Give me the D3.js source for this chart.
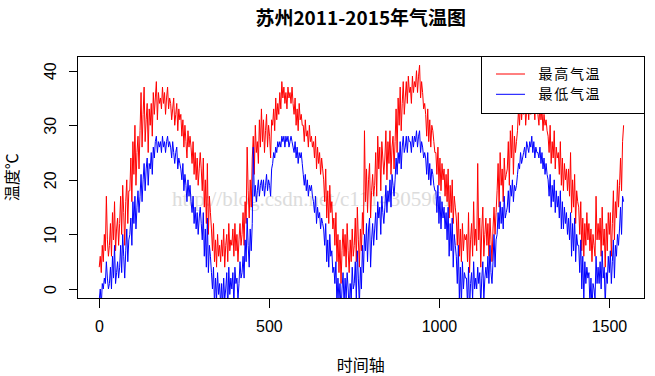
<!DOCTYPE html>
<html><head><meta charset="utf-8">
<script src="https://cdn.jsdelivr.net/npm/d3@7"></script>
<style>body{margin:0;background:#fff}svg{display:block}</style>
</head><body><svg id="c" width="655" height="376"></svg>
<script>
// Daily temperature, sampled every 3 days (day index 1, 4, 7, ...)
const maxTemp = [
4,6,3,8,5,10,7,17,9,6, 8,12,6,14,9,16,7,11,13,8, 12,17,10,19,14,8,16,20,12,18,
18,24,16,27,21,30,19,25,28,22, 29,36,26,32,37,27,31,34,25,33, 30,34,28,36,32,35,38,31,36,34,
35,33,37,34,36,32,35,37,33,35, 34,31,33,35,30,32,34,29,33,31, 32,28,31,26,30,27,24,29,26,28,
26,23,27,21,25,20,24,19,22,25, 22,18,24,15,20,12,23,10,17,14, 11,7,12,5,9,4,10,6,8,5,
9,6,11,4,8,10,5,12,7,9, 8,11,6,12,7,10,5,9,12,8, 10,14,8,16,12,26,18,13,20,15,
24,28,21,30,25,27,23,31,26,33, 27,31,25,29,32,26,30,28,24,31, 30,33,29,35,31,34,32,36,33,38,
35,37,34,36,33,37,35,36,34,37, 34,32,35,30,33,29,34,31,32,30, 30,27,31,28,29,26,30,27,28,26,
27,24,28,22,26,23,25,21,24,22, 20,16,22,13,18,12,19,14,16,11, 13,8,14,5,10,3,9,1,7,11,
6,10,4,12,7,3,9,5,11,6, 8,13,5,15,9,4,11,7,14,10, 29,16,22,14,20,23,13,18,21,17,
19,25,17,28,22,26,18,27,24,21, 24,29,20,27,23,29,21,26,28,22, 27,33,25,35,30,37,29,34,38,32,
35,38,34,39,36,37,34,39,36,38, 37,40,36,39,41,35,38,36,33,34, 32,28,33,27,31,26,30,29,27,25,
25,21,26,19,24,18,23,20,22,17, 21,16,22,13,19,14,20,12,17,15, 13,8,14,6,11,5,12,7,10,9,
10,5,14,3,9,12,6,16,8,11, 7,23,9,13,4,11,15,6,10,13, 8,12,6,13,9,5,11,15,10,14,
18,23,15,25,19,22,16,24,20,21, 22,27,19,29,24,30,21,28,25,27, 29,33,30,35,31,34,32,36,30,33,
34,31,35,32,36,33,34,31,35,33, 32,30,34,31,33,29,32,30,31,29, 28,25,30,23,27,24,29,22,26,24,
25,21,27,19,24,18,23,20,22,18, 22,17,25,14,20,15,21,12,18,16, 15,10,16,7,13,6,12,8,14,9,
12,7,11,5,10,8,6,17,9,12, 9,13,6,15,8,11,4,12,7,14, 10,14,6,12,18,9,16,13,20,15,
19,24,18,27,30
];
const minTemp = [
-2,0,-3,1,0,2,1,5,2,0, 1,4,0,6,2,8,1,3,5,2, 4,8,3,10,6,2,7,11,5,9,
10,13,8,16,12,17,11,15,18,14, 17,21,16,20,23,18,22,24,19,23, 22,25,21,26,24,27,28,25,27,26,
27,25,28,26,27,25,27,28,26,27, 26,24,27,25,23,25,26,22,24,23, 22,20,23,18,21,19,16,20,17,19,
16,14,17,12,15,11,14,10,13,15, 12,9,14,6,11,4,13,3,8,6, 3,0,4,-3,2,-2,3,-1,1,-3,
1,-3,2,-2,0,3,-4,4,-1,2, 0,3,-3,4,1,2,-2,1,5,2, 3,6,2,9,5,13,8,4,11,7,
12,26,17,19,16,18,20,17,19,20, 18,20,17,19,21,18,20,19,17,22, 23,25,24,26,25,27,26,27,26,28,
27,28,26,28,27,28,26,27,28,27, 26,25,27,24,26,23,25,24,25,23, 21,19,21,18,20,17,19,18,19,17,
16,14,17,12,15,13,14,11,13,12, 11,8,12,5,9,4,10,6,7,3, 4,1,5,-3,2,-2,1,-4,0,3,
-3,2,-2,3,0,-4,1,-2,4,0, 1,5,-2,7,2,-3,4,0,8,3, 10,7,12,5,11,13,4,9,12,8,
11,14,9,16,13,15,10,17,14,12, 15,19,14,18,16,20,15,21,19,17, 20,24,21,25,23,27,22,26,28,25,
26,28,25,28,27,27,25,28,26,28, 27,29,26,28,29,25,27,26,24,25, 24,21,25,20,23,19,22,21,19,18,
18,14,19,12,17,11,16,13,15,11, 14,9,15,6,12,7,13,4,10,8, 6,1,8,-2,4,-3,5,0,3,2,
2,-3,4,-4,1,3,-2,5,0,2, 0,4,1,3,-3,2,5,-2,2,4, 2,6,1,8,3,1,5,10,4,9,
10,14,11,16,12,15,11,17,13,14, 15,18,14,19,17,20,16,19,18,19, 21,23,22,25,23,24,25,26,24,27,
26,25,27,26,28,25,27,24,26,25, 25,24,26,23,25,22,24,21,23,21, 20,17,21,15,19,16,20,14,18,15,
17,13,18,11,16,11,15,12,14,10, 13,9,14,6,12,7,13,5,10,8, 8,3,9,0,6,-2,5,1,4,2,
3,-3,2,-4,1,0,-2,6,1,4, 1,5,0,7,2,4,-3,3,1,6, 3,7,1,5,9,2,8,6,10,8,
11,15,10,17,16
];
const dayStep = 3;
const xTicks = [0, 500, 1000, 1500];
const yTicks = [0, 10, 20, 30, 40];
const titleText = "苏州2011-2015年气温图";
const xLabel = "时间轴";
const yLabel = "温度℃";
const seriesNames = ["最高气温", "最低气温"];
const seriesColors = ["#ff0000", "#0000ff"];
const watermark = "http://blog.csdn.net/c1114305961";

const days = maxTemp.map((d, i) => 1 + i * dayStep);

const svg = d3.select("#c");
const L = 77.5, R = 644, T = 56.5, B = 298;
const x = d3.scaleLinear().domain([-62.9, 1603]).range([L, R]);
const y = d3.scaleLinear().domain([-1.65, 42.6]).range([B, T]);

const latin = "'Liberation Sans', Arial, sans-serif";
const cjk = "'Noto Sans CJK SC', 'Liberation Sans', sans-serif";

svg.append("defs").append("clipPath").attr("id", "clip")
  .append("rect").attr("x", L).attr("y", T).attr("width", R - L).attr("height", B - T);

// watermark
svg.append("text").attr("x", 172).attr("y", 206)
  .attr("font-family", "'Liberation Serif', 'DejaVu Serif', serif").attr("font-size", 21)
  .attr("fill", "#dcdcdc").text(watermark);

const line = d3.line().x((d, i) => x(days[i])).y(d => y(d));
const g = svg.append("g").attr("clip-path", "url(#clip)");
[maxTemp, minTemp].forEach((s, k) => {
  g.append("path").datum(s).attr("d", line).attr("fill", "none")
    .attr("stroke", seriesColors[k]).attr("stroke-width", 1);
});

// box
svg.append("rect").attr("x", L).attr("y", T).attr("width", R - L).attr("height", B - T)
  .attr("fill", "none").attr("stroke", "#000").attr("stroke-width", 1).attr("shape-rendering", "crispEdges");

// x axis
const xa = svg.append("g").attr("transform", `translate(0,${B})`)
  .call(d3.axisBottom(x).tickValues(xTicks).tickSize(9.5).tickPadding(0).tickFormat(d3.format("d")));
xa.select(".domain").remove();
xa.selectAll("line").attr("stroke", "#000").attr("shape-rendering", "crispEdges");
xa.selectAll("text").attr("y", 34).attr("dy", null).attr("font-family", latin).attr("font-size", 16).attr("fill", "#000");

// y axis
const ya = svg.append("g").attr("transform", `translate(${L},0)`)
  .call(d3.axisLeft(y).tickValues(yTicks).tickSize(9).tickFormat(d3.format("d")));
ya.select(".domain").remove();
ya.selectAll("line").attr("stroke", "#000").attr("shape-rendering", "crispEdges");
ya.selectAll("text").attr("x", null).attr("dy", null)
  .attr("transform", "translate(-22,0) rotate(-90)").attr("text-anchor", "middle")
  .attr("font-family", latin).attr("font-size", 16).attr("fill", "#000");

// title & labels
svg.append("text").attr("x", (L + R) / 2).attr("y", 25).attr("text-anchor", "middle")
  .attr("font-family", cjk).attr("font-weight", "bold").attr("font-size", 19).text(titleText);
svg.append("text").attr("x", (L + R) / 2).attr("y", 371).attr("text-anchor", "middle")
  .attr("font-family", cjk).attr("font-size", 16).text(xLabel);
svg.append("text").attr("transform", `translate(18,${(T + B) / 2}) rotate(-90)`).attr("text-anchor", "middle")
  .attr("font-family", cjk).attr("font-size", 16).text(yLabel);

// legend
const lg = svg.append("g");
lg.append("rect").attr("x", 481.5).attr("y", T).attr("width", R - 481.5).attr("height", 56.5)
  .attr("fill", "#fff").attr("stroke", "#000").attr("shape-rendering", "crispEdges");
seriesNames.forEach((n, k) => {
  const yy = 74 + k * 20.3;
  lg.append("line").attr("x1", 496).attr("x2", 525).attr("y1", yy).attr("y2", yy)
    .attr("stroke", seriesColors[k]).attr("stroke-width", 1);
  lg.append("text").attr("x", 538.5).attr("y", yy).attr("dy", "0.36em")
    .attr("font-family", cjk).attr("font-size", 14).attr("letter-spacing", 1.7).text(n);
});
</script></body></html>
